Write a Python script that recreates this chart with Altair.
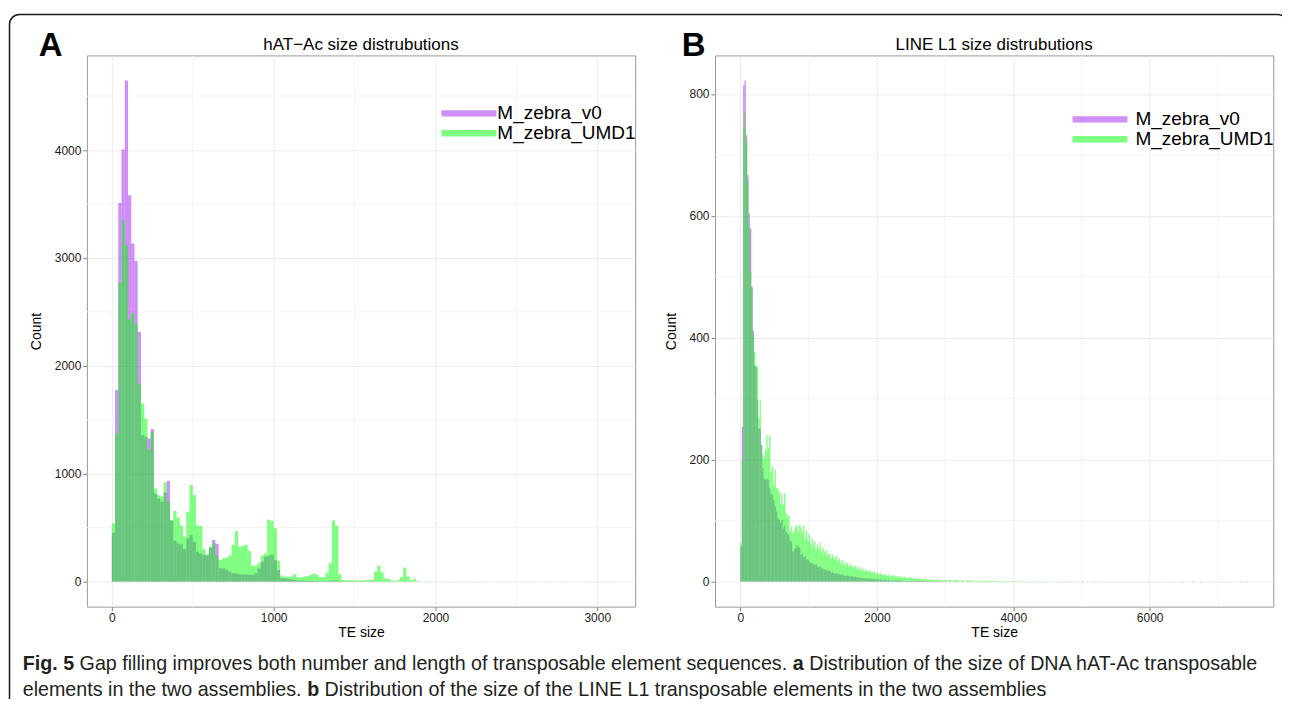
import altair as alt
import pandas as pd

BIN = 20
SERIES = ["M_zebra_v0", "M_zebra_UMD1"]
COLORS = ["#A020F0", "#00FF00"]

# ---- Panel A (hAT-Ac), counts per 20-bp bin starting at 0 ----
a_v0 = [454, 1775, 3509, 4006, 4645, 3580, 3133, 2972, 2315, 1358,
        1343, 1327, 1414, 815, 770, 740, 827, 932, 565, 380,
        355, 346, 302, 401, 432, 370, 278, 262, 247, 241,
        315, 386, 350, 123, 123, 108, 93, 77, 77, 68,
        68, 68, 62, 62, 77, 123, 185, 231, 240, 250,
        200, 108, 31, 31, 25, 20, 15, 12, 10, 8,
        6, 5, 5, 4, 4, 4, 5, 8, 10, 10,
        5, 3, 2, 2, 2, 2, 1, 2, 1, 1,
        2, 2, 3, 2, 1, 1, 1, 0, 1, 1,
        2, 1, 0, 0, 0]
a_umd1 = [540, 1373, 2772, 3349, 3117, 2432, 2488, 2386, 1836, 1651,
          1512, 1219, 1383, 864, 802, 787, 920, 740, 571, 654,
          593, 519, 417, 648, 895, 802, 518, 518, 302, 253,
          324, 355, 240, 198, 216, 222, 241, 340, 469, 324,
          333, 340, 284, 148, 148, 170, 241, 262, 574, 562,
          494, 191, 56, 46, 46, 46, 68, 40, 40, 46,
          50, 62, 74, 62, 40, 40, 83, 173, 565, 518,
          68, 15, 12, 15, 12, 12, 9, 12, 15, 15,
          18, 93, 148, 86, 31, 25, 12, 6, 15, 40,
          130, 49, 12, 25, 5,
          2, 1, 0, 1, 1, 0, 1, 0, 0, 1,
          0, 1, 0, 0, 1, 0, 0, 1, 0, 0,
          1, 0, 0, 0, 1, 0, 0, 1, 0, 0,
          0, 1, 0, 0, 0, 1, 0, 0, 0, 0,
          1, 0, 0, 0, 0, 1, 0, 0, 0, 0,
          0, 1, 0, 0, 0, 0, 0, 0, 1]

# ---- Panel B (LINE L1), counts per 20-bp bin starting at 0 ----
b_v0 = [57, 254, 814, 822, 732, 667, 604, 579, 484, 412,
        355, 352, 298, 251, 251, 224, 186, 169, 167, 169,
        167, 153, 145, 142, 134, 123, 115, 104, 101, 96,
        101, 87, 92, 82, 79, 77, 66, 66, 49, 52,
        55, 60, 57, 55,
        44, 46, 40, 41, 36, 37, 33, 30, 31, 28,
        27, 29, 25, 24, 25, 21, 22, 20, 19, 20,
        17, 18, 15, 16, 14, 13, 14, 12, 12, 11,
        12, 10, 10, 9, 10, 9, 8, 9, 8, 7,
        8, 7, 6, 7, 6, 6, 5, 6, 5, 5,
        5, 4, 5, 4, 4, 4,
        4, 3, 4, 3, 3, 3, 3, 2, 3, 2,
        2, 2, 2, 2, 2, 2, 2, 1, 2, 1,
        1, 1, 1, 1, 1, 1, 1, 1, 1, 1,
        1, 1, 1, 1, 1, 0, 1, 1, 0, 1,
        1, 0, 1, 0, 1, 0, 0, 1, 0, 0,
        1, 0, 0, 1, 0, 0, 0, 1, 0, 0,
        0, 0, 1, 0, 0, 0, 0, 0, 1, 0]
b_umd1 = [63, 197, 743, 770, 721, 656, 582, 508, 481, 407,
          377, 355, 352, 268, 298, 224, 208, 202, 216, 240,
          219, 240, 180, 189, 158, 183, 153, 153, 148, 128,
          145, 126, 145, 112, 107, 109, 82, 90, 79, 82,
          90, 93, 82, 93,
          88, 80, 92, 70, 84, 66, 78, 62, 71, 58,
          66, 52, 60, 55, 64, 48, 56, 50, 45, 52,
          42, 46, 38, 44, 40, 36, 42, 34, 38, 30,
          36, 28, 33, 27, 31, 25, 29, 24, 27, 22,
          26, 21, 24, 19, 23, 18, 21, 17, 20, 16,
          18, 15, 17, 14, 16, 13,
          15, 12, 14, 11, 13, 10, 12, 9, 11, 10,
          9, 11, 8, 10, 7, 9, 8, 7, 9, 6,
          8, 6, 7, 5, 7, 6, 5, 6, 4, 5,
          6, 4, 5, 3, 4, 5, 3, 4, 3, 4,
          3, 2, 3, 4, 2, 3, 2, 3, 2, 2,
          3, 2, 2, 3, 2, 2, 1, 2, 3, 2,
          2, 1, 2, 2, 1, 2, 3, 2, 1, 2,
          2, 1, 1, 2, 1, 2, 1, 1, 2, 1,
          1, 2, 1, 1, 1, 2, 1, 1, 1, 1,
          1, 0, 1, 1, 0, 1, 1, 0, 1, 1,
          1, 0, 1, 0, 0, 1, 0, 1, 0, 0,
          1, 0, 0, 1, 0, 1, 0, 0, 0, 1,
          0, 1, 0, 0, 1, 0, 0, 0, 1, 0,
          0, 1, 0, 0, 0, 1, 0, 0, 1, 0,
          0, 0, 1, 0, 0, 0, 0, 1, 0, 0,
          1, 0, 0, 0, 1, 0, 0, 0, 0, 1,
          0, 0, 1, 0, 0, 0, 0, 0, 1, 0,
          0, 0, 0, 1, 0, 0, 0, 1, 0, 0,
          0, 0, 1, 0, 0, 0, 0, 0, 1, 0,
          0, 0, 0, 0, 1, 0, 0, 0, 0, 1,
          0, 0, 0, 0, 0, 1, 0, 0, 0, 0,
          0, 1, 0, 0, 0, 0, 0, 0, 1, 0,
          0, 0, 0, 0, 1, 0, 0, 0, 0, 0,
          0, 1, 0, 0, 0, 0, 0, 1, 0, 0,
          0, 0, 0, 0, 0, 1, 0, 0, 0, 0,
          0, 0, 1, 0, 0, 0, 0, 0, 0, 1,
          0, 0, 0, 0, 0, 0, 0, 1, 0, 0,
          0, 1]

a_xticks = [0, 1000, 2000, 3000]
a_xminor = [500, 1500, 2500]
a_yticks = [0, 1000, 2000, 3000, 4000]
a_yminor = [500, 1500, 2500, 3500, 4500]
b_xticks = [0, 2000, 4000, 6000]
b_xminor = [1000, 3000, 5000, 7000]
b_yticks = [0, 200, 400, 600, 800]
b_yminor = [100, 300, 500, 700]

title_a = "hAT\u2212Ac size distrubutions"
title_b = "LINE L1 size distrubutions"
# caption lines: (text, bold)
cap1 = [("Fig. 5", True),
        ("Gap filling improves both number and length of transposable element sequences.", False),
        ("a", True), ("Distribution of the size of DNA hAT-Ac transposable", False)]
cap2 = [("elements in the two assemblies.", False), ("b", True),
        ("Distribution of the size of the LINE L1 transposable elements in the two assemblies", False)]

FONT = "Liberation Sans"
CAP_COLOR = "#231F20"
LEGEND_SYMBOL = "M-1,-0.32L4.5,-0.32L4.5,0.32L-1,0.32Z"

# Arial / Liberation Sans advance widths (1/1000 em)
_REG = {" ": 278, ".": 278, "-": 333, "1": 556, "5": 556,
        "A": 667, "D": 722, "E": 667, "F": 611, "G": 778, "I": 278, "L": 556, "N": 722, "T": 611,
        "a": 556, "b": 556, "c": 500, "d": 556, "e": 556, "f": 278, "g": 556, "h": 556, "i": 222,
        "j": 222, "k": 500, "l": 222, "m": 833, "n": 556, "o": 556, "p": 556, "q": 556, "r": 333,
        "s": 500, "t": 278, "u": 556, "v": 500, "w": 722, "x": 500, "y": 500, "z": 500}
_BOLD = {" ": 278, ".": 278, "5": 556, "F": 611, "i": 278, "g": 611, "a": 556, "b": 611}


def text_width(s, size, bold):
    table = _BOLD if bold else _REG
    return sum(table.get(ch, 556) for ch in s) * size / 1000.0


# layout (page pixels)
OXA, OY = 86.25, 53.75
W_A, W_B, H = 549, 559, 552
GAP = 80
OXB = OXA + W_A + GAP
FRAME_RIGHT = 1288.5
FRAME_BOTTOM = 740.0
PAGE_RIGHT = 1282.0
PAGE_BOTTOM = 697.0
CAP_LEFT, CAP_RIGHT = 22.0, 1262.0
CAP_Y = [663.0, 689.0]

line1_em = sum(text_width(t, 1, b) for t, b in cap1) + text_width(" ", 1, False) * (len(cap1) - 1)
CAP_SIZE = (CAP_RIGHT - CAP_LEFT) / line1_em


def hist_df(v0, umd1):
    rows = []
    for name, vals in zip(SERIES, (v0, umd1)):
        for i, c in enumerate(vals):
            if c > 0:
                rows.append({"start": i * BIN, "end": (i + 1) * BIN, "count": c, "series": name})
    return pd.DataFrame(rows)


def text_layer(text, x, y, size, weight="normal", font=FONT, color="black",
               baseline="middle", align="left"):
    return alt.Chart(pd.DataFrame({"t": [text]})).mark_text(
        align=align, baseline=baseline, font=font, fontSize=size,
        fontWeight=weight, color=color
    ).encode(text="t:N", x=alt.value(x), y=alt.value(y))


def caption_layers(line, y, ox, oy):
    layers = []
    x = CAP_LEFT
    for text, bold in line:
        layers.append(text_layer(text, x - ox, y - oy, CAP_SIZE, "bold" if bold else "normal",
                                 FONT, CAP_COLOR))
        x += text_width(text, CAP_SIZE, bold) + text_width(" ", CAP_SIZE, False)
    return layers


def panel(df, title, xt, xm, yt, ym, w, lx, ly, loff, extra):
    xmax = float(df["end"].max())
    ymax = float(df["count"].max())
    xs = alt.Scale(domain=[-0.05 * xmax, 1.05 * xmax], nice=False, zero=False)
    ys = alt.Scale(domain=[-0.05 * ymax, 1.05 * ymax], nice=False, zero=False)
    xaxis = alt.Axis(values=xt, title="TE size", format="d")
    yaxis = alt.Axis(values=yt, title="Count", format="d")
    gx = alt.Chart(pd.DataFrame({"v": xm})).mark_rule(color="#F4F4F4", strokeWidth=1).encode(
        x=alt.X("v:Q", scale=xs, axis=xaxis))
    gy = alt.Chart(pd.DataFrame({"v": ym})).mark_rule(color="#F4F4F4", strokeWidth=1).encode(
        y=alt.Y("v:Q", scale=ys, axis=yaxis))
    bars = alt.Chart(df).mark_bar(opacity=0.5).encode(
        x=alt.X("start:Q", scale=xs, axis=xaxis),
        x2="end:Q",
        y=alt.Y("count:Q", scale=ys, stack=None, axis=yaxis),
        y2=alt.datum(0),
        color=alt.Color("series:N", scale=alt.Scale(domain=SERIES, range=COLORS),
                        legend=alt.Legend(orient="none", legendX=lx, legendY=ly, title=None,
                                          symbolType=LEGEND_SYMBOL, symbolSize=400,
                                          symbolOpacity=0.5, symbolStrokeWidth=0,
                                          labelFont=FONT, labelFontSize=19, labelColor="black",
                                          labelOffset=loff, padding=0, rowPadding=0, offset=0)),
    )
    ttl = text_layer(title, w / 2.0, -5, 17, align="center", baseline="alphabetic")
    return alt.layer(gx, gy, bars, ttl, *extra).properties(width=w, height=H)


dfa = hist_df(a_v0, a_umd1)
dfb = hist_df(b_v0, b_umd1)

frame = alt.Chart(pd.DataFrame({"k": [0]})).mark_rect(
    fillOpacity=0, stroke="#1A1A1A", strokeWidth=1.5, cornerRadius=10
).encode(x=alt.value(8.75 - OXA), x2=alt.value(FRAME_RIGHT - OXA),
         y=alt.value(12.75 - OY), y2=alt.value(FRAME_BOTTOM - OY))

extra_a = ([frame, text_layer("A", 38 - OXA, 54 - OY, 33, "bold", baseline="alphabetic")]
           + caption_layers(cap1, CAP_Y[0], OXA, OY)
           + caption_layers(cap2, CAP_Y[1], OXA, OY))
extra_b = [text_layer("B", 682 - OXB, 54 - OY, 33, "bold", baseline="alphabetic")]

pa = panel(dfa, title_a, a_xticks, a_xminor, a_yticks, a_yminor, W_A, 355, 48, 36, extra_a)
pb = panel(dfb, title_b, b_xticks, b_xminor, b_yticks, b_yminor, W_B, 358, 54, 43, extra_b)

chart = alt.hconcat(pa, pb, spacing=GAP, bounds="flush").resolve_scale(
    color="independent").resolve_legend(color="independent").properties(
    padding={"left": 0, "top": 4,
             "right": PAGE_RIGHT - (FRAME_RIGHT + 0.75),
             "bottom": PAGE_BOTTOM - (FRAME_BOTTOM + 0.75)}
).configure_view(stroke="#9A9A9A", strokeWidth=1).configure_axis(
    grid=True, gridColor="#EBEBEB", gridWidth=1, domain=False,
    tickColor="#7F7F7F", tickSize=4, tickWidth=1,
    labelFont=FONT, labelFontSize=12, labelColor="#1A1A1A", labelPadding=2,
    titleFont=FONT, titleFontSize=14, titleFontWeight="normal", titleColor="black"
).configure_axisX(titlePadding=2).configure_axisY(titlePadding=11)

chart.save("out.html", embed_options={"renderer": "svg", "actions": False})
